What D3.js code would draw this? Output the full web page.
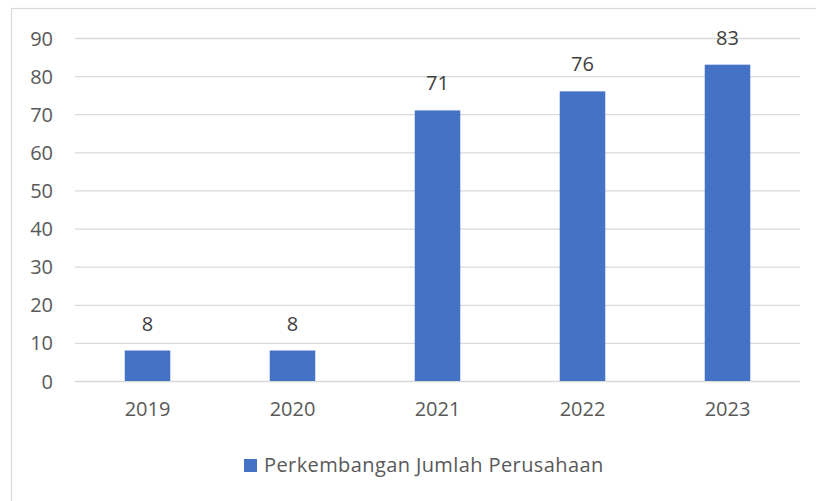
<!DOCTYPE html>
<html><head><meta charset="utf-8">
<script src="https://cdn.jsdelivr.net/npm/d3@7"></script>
<style>html,body{margin:0;padding:0;background:#fff;}svg{display:block;}</style>
</head><body>
<svg id="c" width="816" height="501"></svg>
<script>
const categories = ["2019", "2020", "2021", "2022", "2023"];
const values = [8, 8, 71, 76, 83];
const yTicks = [0, 10, 20, 30, 40, 50, 60, 70, 80, 90];
const seriesName = "Perkembangan Jumlah Perusahaan";

const svg = d3.select("#c");
const font = "'Open Sans', sans-serif";
const textColor = "#595959";
const fs = "20px";

svg.append("rect").attr("x", 11.5).attr("y", 8.5).attr("width", 900).attr("height", 600)
  .attr("fill", "#fff").attr("stroke", "#d9d9d9").attr("stroke-width", 1.2);

const x0 = 75, x1 = 800;
const y = d3.scaleLinear().domain([0, 90]).range([381, 38]);
const x = d3.scaleBand().domain(categories).range([x0, x1]).paddingInner(0.686).paddingOuter(0.343);

const yAxis = d3.axisLeft(y).tickValues(yTicks).tickSize(-(x1 - x0)).tickPadding(22);
const gy = svg.append("g").attr("transform", `translate(${x0},0)`).call(yAxis);
gy.select(".domain").remove();
gy.selectAll(".tick line").attr("stroke", "#d9d9d9").attr("stroke-width", 1.3);
gy.selectAll(".tick text").attr("fill", textColor).style("font-family", font).style("font-size", fs).attr("dy", "0.35em");

const xAxis = d3.axisBottom(x).tickSize(0).tickPadding(21);
const gx = svg.append("g").attr("transform", `translate(0,381)`).call(xAxis);
gx.select(".domain").remove();
gx.selectAll(".tick text").attr("fill", textColor).style("font-family", font).style("font-size", fs);

svg.append("g").selectAll("rect").data(values).join("rect")
  .attr("x", (d, i) => x(categories[i]))
  .attr("width", x.bandwidth())
  .attr("y", d => y(d))
  .attr("height", d => y(0) - y(d))
  .attr("fill", "#4472c4");

svg.append("g").selectAll("text").data(values).join("text")
  .attr("x", (d, i) => x(categories[i]) + x.bandwidth() / 2)
  .attr("y", d => y(d) - 20)
  .attr("text-anchor", "middle")
  .attr("fill", "#404040")
  .style("font-family", font).style("font-size", fs)
  .text(d => d);

const lg = svg.append("g");
lg.append("rect").attr("x", 244).attr("y", 459).attr("width", 13).attr("height", 13).attr("fill", "#4472c4");
lg.append("text").attr("x", 264).attr("y", 472).attr("fill", textColor)
  .style("font-family", font).style("font-size", fs).style("letter-spacing", "0.4px").text(seriesName);
</script>
</body></html>
